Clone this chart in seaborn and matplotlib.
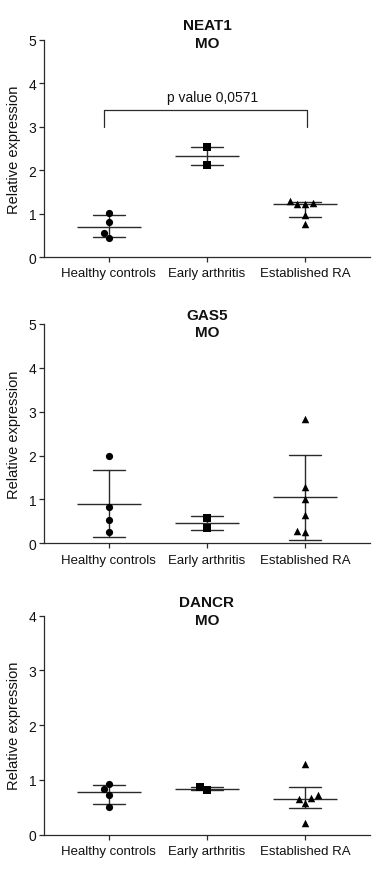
import numpy as np
import pandas as pd
import matplotlib
matplotlib.use("Agg")
import matplotlib.pyplot as plt
import seaborn as sns

# ---------------- data ----------------
groups = ["Healthy controls", "Early arthritis", "Established RA"]
group_markers = ["o", "s", "^"]

neat1_hc = [1.01, 0.80, 0.56, 0.44]
neat1_ea = [2.54, 2.12]
neat1_ra = [1.29, 1.21, 1.21, 1.25, 0.97, 0.77]

gas5_hc = [1.99, 0.83, 0.52, 0.26]
gas5_ea = [0.57, 0.34]
gas5_ra = [2.83, 1.28, 1.00, 0.64, 0.26, 0.27]

dancr_hc = [0.93, 0.83, 0.73, 0.50]
dancr_ea = [0.81, 0.87]
dancr_ra = [1.30, 0.72, 0.65, 0.67, 0.57, 0.21]

panel_titles = ["NEAT1\nMO", "GAS5\nMO", "DANCR\nMO"]
panel_ymax = [5, 5, 4]
panel_summary = ["median_iqr", "mean_sd", "median_iqr"]

p_label = "p value 0,0571"
bracket_low = 3.0
bracket_high = 3.38
bracket_text_y = 3.69

panels = [
    [neat1_hc, neat1_ea, neat1_ra],
    [gas5_hc, gas5_ea, gas5_ra],
    [dancr_hc, dancr_ea, dancr_ra],
]

# ---------------- style ----------------
sns.set_style("ticks")
plt.rcParams["font.family"] = ["Liberation Sans", "DejaVu Sans"]
LINE = "#2a2a2a"


def iqr_weibull(v):
    return (np.percentile(v, 25, method="weibull"),
            np.percentile(v, 75, method="weibull"))


fig = plt.figure(figsize=(3.76, 8.78), dpi=100)
W, H = 376.0, 878.0
ax_left, ax_right = 44, 370
# (top px, bottom px) of each axes
ax_rows = [(40.7, 258.0), (325.0, 544.3), (616.7, 835.7)]
title_mid_px = [35.0, 324.5, 612.3]

for i, (vals, title, ymax, summ) in enumerate(zip(panels, panel_titles, panel_ymax, panel_summary)):
    top, bot = ax_rows[i]
    ax = fig.add_axes([ax_left / W, 1 - bot / H, (ax_right - ax_left) / W, (bot - top) / H])

    df = pd.DataFrame({
        "group": np.concatenate([[g] * len(v) for g, v in zip(groups, vals)]),
        "value": np.concatenate(vals),
    })

    for g, m in zip(groups, group_markers):
        sub = df[df["group"] == g]
        sns.swarmplot(data=sub, x="group", y="value", order=groups, marker=m,
                      color="black", size=5.4 if m == "^" else 5.2, linewidth=0,
                      ax=ax, zorder=3)

    if summ == "median_iqr":
        est, err = "median", iqr_weibull
    else:
        est, err = "mean", "sd"

    sns.pointplot(data=df, x="group", y="value", order=groups, estimator=est,
                  errorbar=err, capsize=0.33, color=LINE, linestyle="none",
                  marker="_", markersize=46, markeredgewidth=1.0,
                  err_kws={"linewidth": 1.0}, ax=ax, zorder=2)

    ax.set_xlim(-0.66, 2.66)
    ax.set_ylim(0, ymax)
    ax.set_yticks(range(0, ymax + 1))
    ax.set_xlabel("")
    ax.set_ylabel("Relative expression", fontsize=10.5, color="#111")
    ax.yaxis.set_label_coords(-23 / (ax_right - ax_left), 0.5)
    sns.despine(ax=ax)
    for s in ["left", "bottom"]:
        ax.spines[s].set_color(LINE)
        ax.spines[s].set_linewidth(0.9)
    ax.tick_params(axis="both", direction="out", length=3.5, width=0.9, color=LINE,
                   labelcolor="#111")
    ax.tick_params(axis="y", labelsize=10, pad=2)
    ax.tick_params(axis="x", labelsize=9.5, pad=4)

    ty = (bot - title_mid_px[i]) / (bot - top)
    ax.text(1, ty, title, transform=ax.get_xaxis_transform(),
            ha="center", va="center", fontsize=11, fontweight="bold",
            linespacing=1.35, color="#111")

    if i == 0:
        ax.plot([-0.05, -0.05, 2.02, 2.02],
                [bracket_low, bracket_high, bracket_high, bracket_low],
                color=LINE, linewidth=0.9)
        ax.text(1.06, bracket_text_y, p_label, ha="center", va="center",
                fontsize=10, color="#111")

fig.savefig("out.png", dpi=100)
